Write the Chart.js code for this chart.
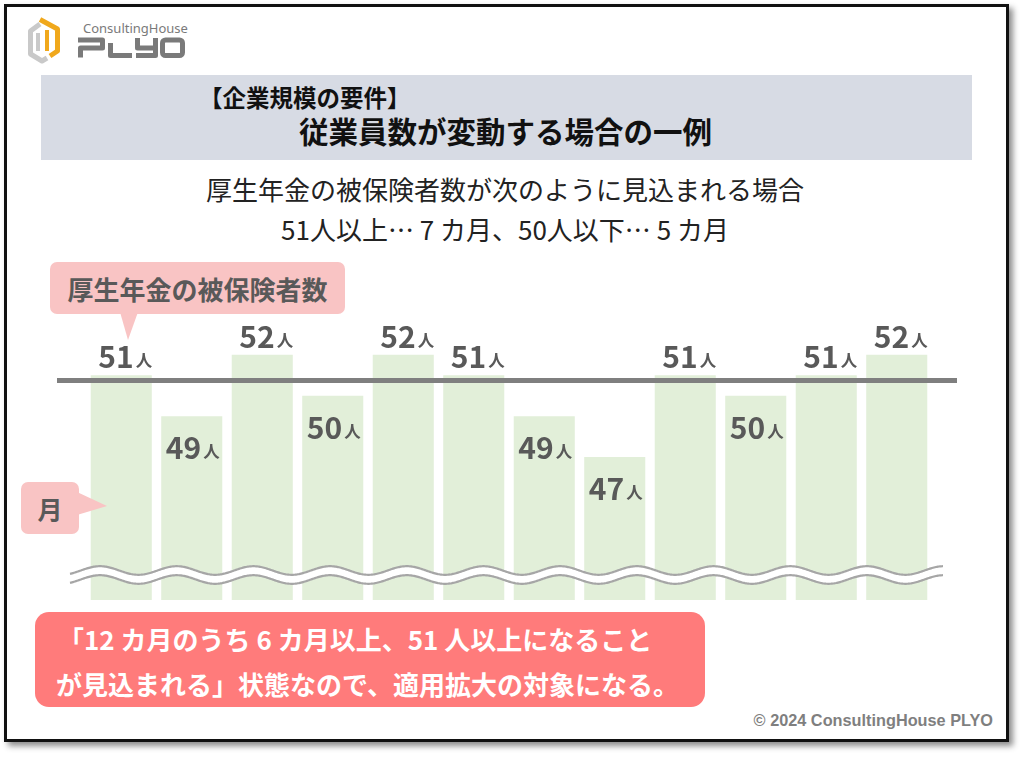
<!DOCTYPE html>
<html lang="ja">
<head>
<meta charset="utf-8">
<script src="https://cdn.jsdelivr.net/npm/chart.js@4/dist/chart.umd.min.js"></script>
<style>
    html, body { margin: 0; padding: 0; background: #fff; }
    body { width: 1024px; height: 757px; position: relative; overflow: hidden;
           font-family: "Noto Sans CJK JP", "Noto Sans", sans-serif; }
    .frame { position: absolute; left: 4px; top: 4px; width: 999px; height: 732px;
             border: 3px solid #111; box-shadow: 4px 4px 6px rgba(0,0,0,0.45); background: #fff; }
    .abs { position: absolute; white-space: nowrap; }
    .header { left: 41px; top: 75px; width: 931px; height: 85px; background: #d7dbe4; }
    .h1 { left: 199px; top: 86px; font-size: 23.5px; font-weight: bold; color: #111; line-height: 1; }
    .h2 { left: 299px; top: 116px; font-size: 29.5px; font-weight: bold; color: #111; line-height: 1; }
    .sub { left: 0; width: 1010px; text-align: center; font-size: 26px; color: #222; line-height: 1; }
    .callout { background: #f9c4c4; border-radius: 7px; color: #595959; font-weight: bold;
               display: flex; align-items: center; justify-content: center; }
    .note { left: 35px; top: 612px; width: 670px; height: 95px; background: #ff7b7b; border-radius: 14px;
            color: #fff; font-weight: bold; font-size: 26px; }
    .copy { right: 31px; top: 711px; font-family: "Liberation Sans", Arial, sans-serif; font-weight: bold;
            font-size: 16.3px; color: #7f7f7f; }
    #chartBox { position: absolute; left: 0; top: 240px; width: 1024px; height: 380px; }
</style>
</head>
<body>
<div class="frame"></div>

<!-- logo -->
<svg class="abs" style="left:0;top:0" width="200" height="70">
    <polyline points="40,24 30.5,31 30.5,54 42,61 47,58" fill="none" stroke="#c9c9c9" stroke-width="5" stroke-linejoin="round"/>
    <polyline points="38,33 38,51" fill="none" stroke="#c9c9c9" stroke-width="4"/>
    <polyline points="40,19.5 57.5,29 57.5,51 50,56" fill="none" stroke="#f0a81c" stroke-width="5" stroke-linejoin="round"/>
    <polyline points="47,30 47,51" fill="none" stroke="#f0a81c" stroke-width="4"/>
    <text x="83" y="33" font-size="13" fill="#7a7a7a" font-family="Noto Sans, sans-serif">ConsultingHouse</text>
    <g fill="none" stroke="#7a7a7a" stroke-width="5" stroke-linejoin="round">
        <path d="M78,40 H102.5 V48 H80.5 V57.5"/>
        <path d="M110.5,43 V55.5 H132"/>
        <path d="M137.5,38 V48 H155.5 M155.5,38 V55.5 H136"/>
        <rect x="162.5" y="40" width="20" height="15.5" rx="3"/>
    </g>
</svg>

<div class="abs header"></div>
<div class="abs h1">【企業規模の要件】</div>
<div class="abs h2">従業員数が変動する場合の一例</div>

<div class="abs sub" style="top:176px">厚生年金の被保険者数が次のように見込まれる場合</div>
<div class="abs sub" style="top:216px">51人以上… 7 カ月、50人以下… 5 カ月</div>

<div id="chartBox"><canvas id="barChart"></canvas></div>

<!-- callouts -->
<div class="abs callout" style="left:50px;top:262px;width:295px;height:52px;font-size:26px">厚生年金の被保険者数</div>
<svg class="abs" style="left:110px;top:312px" width="40" height="30">
    <polygon points="10,0 28,0 18,28" fill="#f9c4c4"/>
</svg>
<div class="abs callout" style="left:21px;top:482px;width:58px;height:52px;font-size:25px">月</div>
<svg class="abs" style="left:77px;top:488px" width="34" height="34">
    <polygon points="0,4 0,27 30,18" fill="#f9c4c4"/>
</svg>

<div class="abs note">
    <div class="abs" style="left:23px;top:8px">「12 カ月のうち 6 カ月以上、51 人以上になること</div>
    <div class="abs" style="left:21px;top:53px">が見込まれる」状態なので、適用拡大の対象になる。</div>
</div>

<div class="abs copy">© 2024 ConsultingHouse PLYO</div>

<script>
// 12 months of insured headcount
const months = ['1', '2', '3', '4', '5', '6', '7', '8', '9', '10', '11', '12'];
const headcount = [51, 49, 52, 50, 52, 51, 49, 47, 51, 50, 51, 52];
const unitLabel = '人';
const thresholdValue = 50.75;   // the dark guide line sits just under the 51 tops
const yMin = 40;
const yMax = 54;

const textColor = '#595959';

// Guide line, wavy break and value labels
const decorPlugin = {
    id: 'decor',
    afterDatasetsDraw(chart) {
        const ctx = chart.ctx;
        const area = chart.chartArea;
        const y = chart.scales.y;

        // threshold line
        const ly = y.getPixelForValue(thresholdValue);
        ctx.save();
        ctx.strokeStyle = '#7f7f7f';
        ctx.lineWidth = 5;
        ctx.beginPath();
        ctx.moveTo(area.left - 29, ly);
        ctx.lineTo(area.right + 25, ly);
        ctx.stroke();

        // wavy break (two waves with a white band)
        const x0 = area.left - 16, x1 = area.right + 11;
        const c1 = area.bottom - 29.5, c2 = area.bottom - 20.5;
        const amp = 4.3, wl = 76.7, phase = area.left + 14;
        const wave = (x, c) => c - amp * Math.cos(2 * Math.PI * (x - phase) / wl);
        ctx.fillStyle = '#fff';
        ctx.beginPath();
        for (let x = x0; x <= x1; x += 1) ctx.lineTo(x, wave(x, c1));
        for (let x = x1; x >= x0; x -= 1) ctx.lineTo(x, wave(x, c2));
        ctx.closePath();
        ctx.fill();
        ctx.strokeStyle = '#a6a6a6';
        ctx.lineWidth = 2.2;
        [c1, c2].forEach(c => {
            ctx.beginPath();
            for (let x = x0; x <= x1; x += 1) ctx.lineTo(x, wave(x, c));
            ctx.stroke();
        });

        // value labels
        const meta = chart.getDatasetMeta(0);
        ctx.fillStyle = textColor;
        ctx.textBaseline = 'alphabetic';
        ctx.textAlign = 'left';
        const numFont = 'bold 30px "Noto Sans CJK JP", sans-serif';
        const unitFont = 'bold 16.5px "Noto Sans CJK JP", sans-serif';
        meta.data.forEach((bar, i) => {
            const v = headcount[i];
            const txt = String(v);
            ctx.font = numFont;
            const wNum = ctx.measureText(txt).width;
            ctx.font = unitFont;
            const wUnit = ctx.measureText(unitLabel).width;
            const total = wNum + 2 + wUnit;
            const left = bar.x - total / 2 + (v > thresholdValue ? 4 : 1);
            const base = v > thresholdValue ? bar.y - 7 : bar.y + 43;
            ctx.font = numFont;
            ctx.fillText(txt, left, base);
            ctx.font = unitFont;
            ctx.fillText(unitLabel, left + wNum + 2, base - 1);
        });
        ctx.restore();
    }
};

new Chart(document.getElementById('barChart'), {
    type: 'bar',
    data: {
        labels: months,
        datasets: [{
            label: '厚生年金の被保険者数',
            data: headcount,
            backgroundColor: '#e2efd9',
            borderWidth: 0,
            barPercentage: 0.866,
            categoryPercentage: 1.0
        }]
    },
    options: {
        responsive: true,
        maintainAspectRatio: false,
        animation: false,
        layout: { padding: { left: 86, right: 92, top: 74, bottom: 20 } },
        plugins: {
            legend: { display: false },
            tooltip: { enabled: false }
        },
        scales: {
            x: { display: false },
            y: { display: false, min: yMin, max: yMax }
        }
    },
    plugins: [decorPlugin]
});
</script>
</body>
</html>
